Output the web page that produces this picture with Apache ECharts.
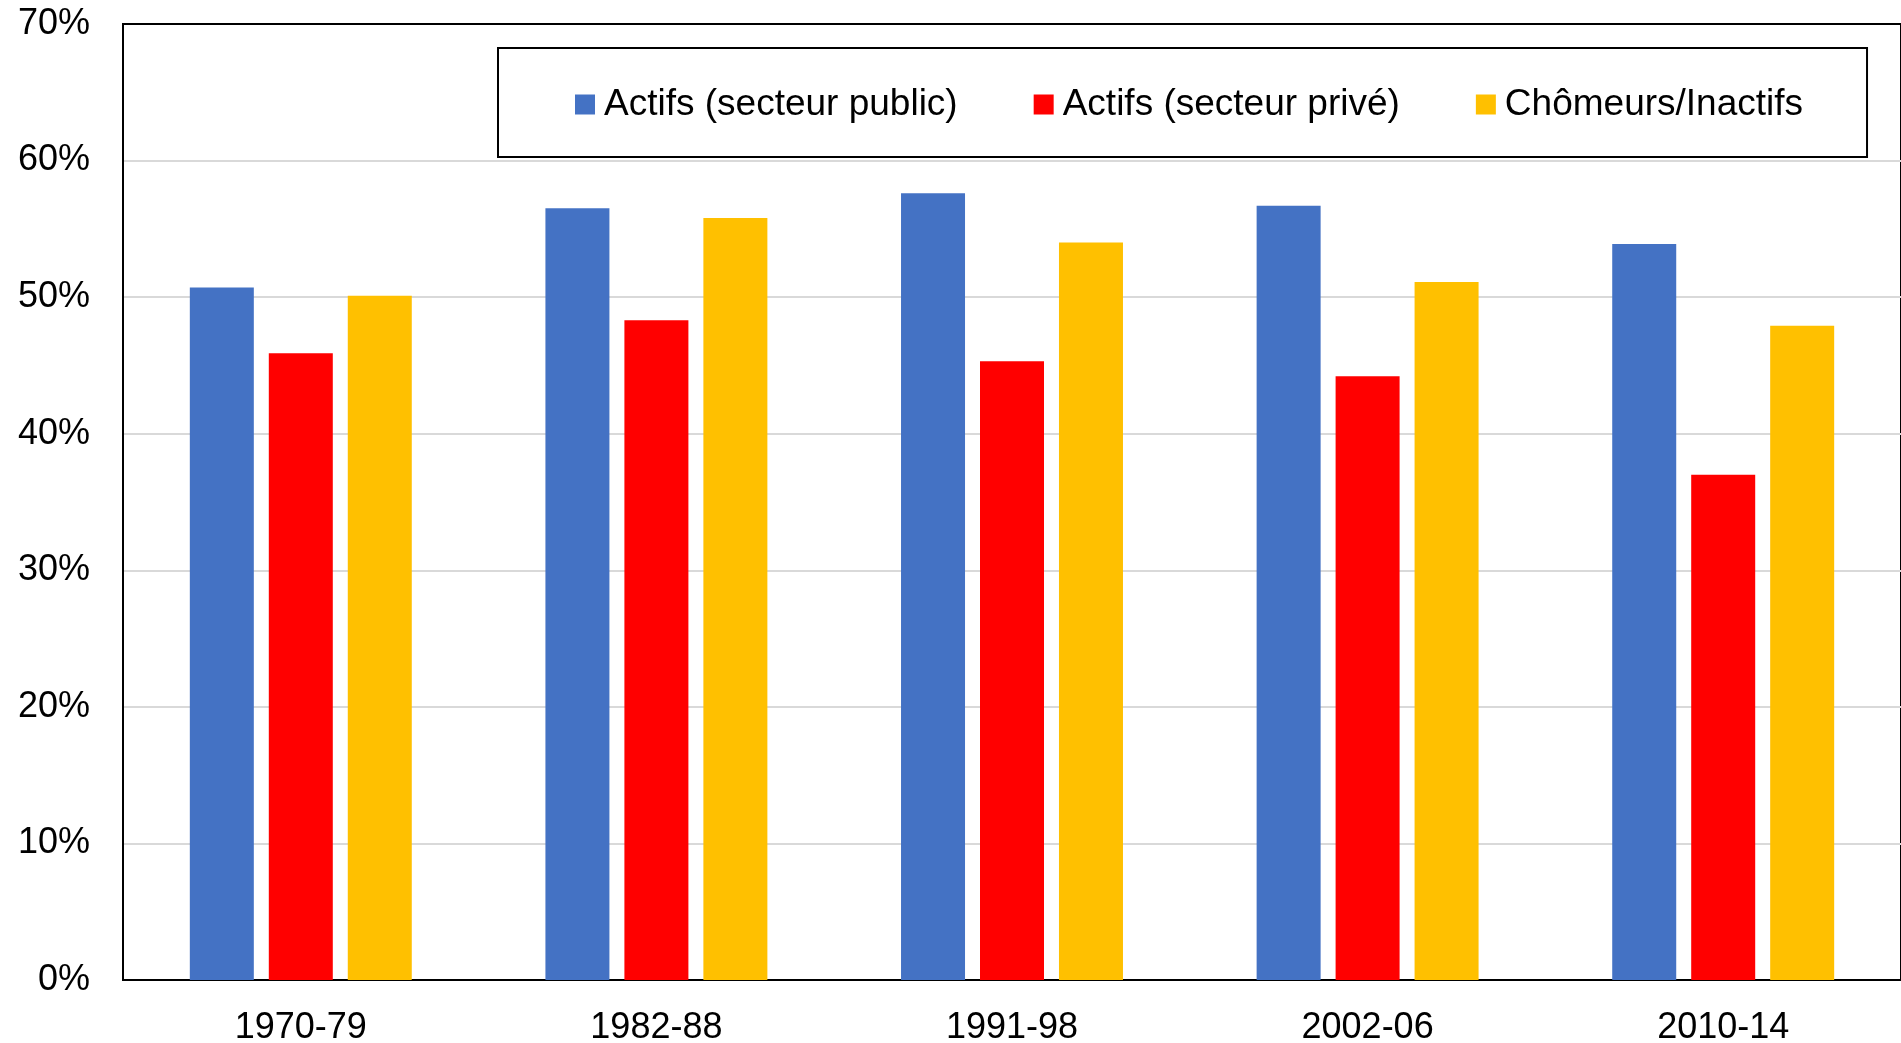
<!DOCTYPE html>
<html>
<head>
<meta charset="utf-8">
<script src="https://cdn.jsdelivr.net/npm/echarts@6/dist/echarts.min.js"></script>
<style>
  html, body { margin: 0; padding: 0; background: #fff; }
  #chart { width: 1901px; height: 1043px; }
</style>
</head>
<body>
<div id="chart"></div>
<script>
  // périodes et parts (%)
  var periods = ['1970-79', '1982-88', '1991-98', '2002-06', '2010-14'];
  var seriesNames = ['Actifs (secteur public)', 'Actifs (secteur privé)', 'Chômeurs/Inactifs'];
  var publicValues = [50.7, 56.5, 57.6, 56.7, 53.9];
  var priveValues = [45.9, 48.3, 45.3, 44.2, 37.0];
  var chomValues = [50.1, 55.8, 54.0, 51.1, 47.9];
  var colors = ['#4472C4', '#FF0000', '#FFC000'];

  var font = 'Liberation Sans, Arial, sans-serif';

  var myChart = echarts.init(document.getElementById('chart'));
  var option = {
    animation: false,
    textStyle: { fontFamily: font },
    grid: {
      left: 123,
      top: 24,
      right: 0,
      bottom: 63,
      show: true,
      borderColor: '#000',
      borderWidth: 2,
      containLabel: false,
      outerBoundsMode: 'none'
    },
    legend: {
      data: seriesNames,
      left: 498,
      top: 48,
      orient: 'horizontal',
      icon: 'rect',
      itemWidth: 20,
      itemHeight: 20,
      itemGap: 76,
      padding: [38, 64, 34, 77],
      borderColor: '#000',
      borderWidth: 2,
      backgroundColor: '#fff',
      textStyle: {
        fontSize: 37,
        color: '#000',
        fontFamily: font,
        padding: [0, 0, 0, 4]
      }
    },
    xAxis: {
      type: 'category',
      data: periods,
      axisLine: { lineStyle: { color: '#000', width: 2 } },
      axisTick: { show: false },
      axisLabel: {
        fontSize: 36,
        color: '#000',
        margin: 30
      }
    },
    yAxis: {
      type: 'value',
      min: 0,
      max: 70,
      interval: 10,
      axisLine: { show: true, lineStyle: { color: '#000', width: 2 } },
      axisTick: { show: false },
      splitLine: { showMaxLine: false, lineStyle: { color: '#D9D9D9', width: 2 } },
      axisLabel: {
        fontSize: 36,
        color: '#000',
        margin: 33,
        padding: [5, 0, 0, 0],
        formatter: '{value}%'
      }
    },
    series: [
      {
        name: seriesNames[0],
        type: 'bar',
        barWidth: 64,
        barGap: '23.4%',
        barCategoryGap: '37.5%',
        itemStyle: { color: colors[0] },
        data: publicValues
      },
      {
        name: seriesNames[1],
        type: 'bar',
        barWidth: 64,
        barGap: '23.4%',
        itemStyle: { color: colors[1] },
        data: priveValues
      },
      {
        name: seriesNames[2],
        type: 'bar',
        barWidth: 64,
        barGap: '23.4%',
        itemStyle: { color: colors[2] },
        data: chomValues
      }
    ]
  };
  myChart.setOption(option);
</script>
</body>
</html>
